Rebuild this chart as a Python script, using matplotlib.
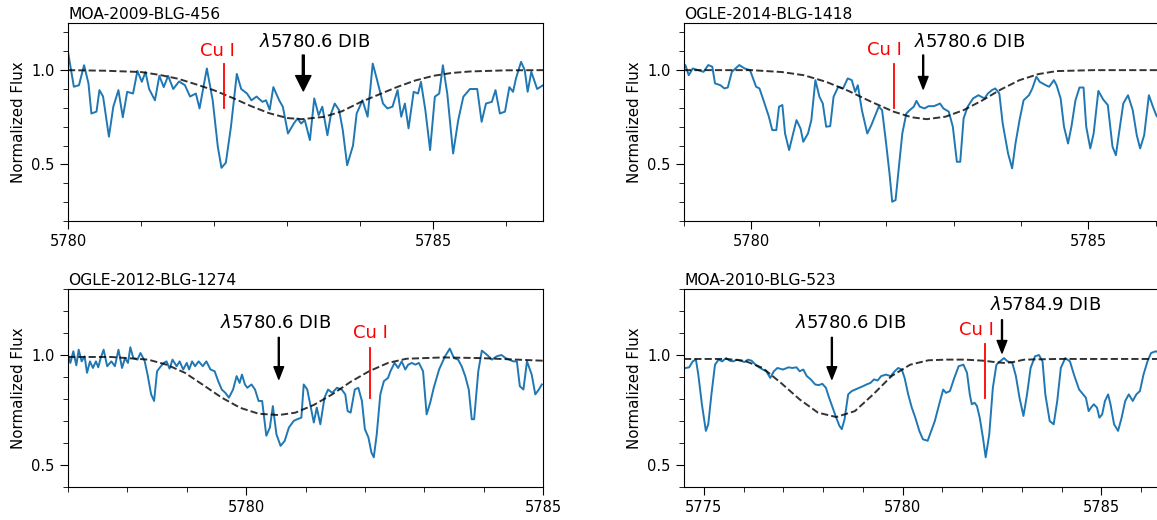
import numpy as np
import matplotlib.pyplot as plt
from matplotlib.ticker import MultipleLocator

# ---- MOA-2009-BLG-456 ----
wave1 = [5780.00, 5780.08, 5780.15, 5780.22, 5780.28, 5780.32, 5780.39, 5780.43, 5780.48, 5780.56,
         5780.62, 5780.69, 5780.75, 5780.81, 5780.89, 5780.95, 5781.01, 5781.06, 5781.11, 5781.19,
         5781.25, 5781.31, 5781.37, 5781.44, 5781.52, 5781.60, 5781.67, 5781.75, 5781.80, 5781.90,
         5781.98, 5782.05, 5782.10, 5782.16, 5782.23, 5782.31, 5782.37, 5782.45, 5782.51, 5782.58,
         5782.66, 5782.71, 5782.76, 5782.81, 5782.89, 5782.94, 5783.01, 5783.09, 5783.14, 5783.19,
         5783.24, 5783.31, 5783.37, 5783.43, 5783.48, 5783.55, 5783.60, 5783.65, 5783.71, 5783.76,
         5783.82, 5783.90, 5783.95, 5784.03, 5784.10, 5784.17, 5784.23, 5784.31, 5784.37, 5784.44,
         5784.51, 5784.56, 5784.61, 5784.66, 5784.73, 5784.79, 5784.83, 5784.89, 5784.955, 5785.02,
         5785.08, 5785.13, 5785.19, 5785.27, 5785.34, 5785.41, 5785.50, 5785.60, 5785.66, 5785.72,
         5785.80, 5785.85, 5785.91, 5785.98, 5786.04, 5786.09, 5786.13, 5786.20, 5786.25, 5786.29,
         5786.34, 5786.42, 5786.50]
flux1 = [1.097, 0.912, 0.920, 1.026, 0.930, 0.770, 0.780, 0.894, 0.860, 0.647,
         0.806, 0.894, 0.750, 0.885, 0.876, 0.996, 0.938, 0.990, 0.900, 0.840,
         0.970, 0.910, 0.970, 0.900, 0.940, 0.920, 0.860, 0.876, 0.797, 1.009,
         0.840, 0.594, 0.482, 0.509, 0.700, 0.980, 0.900, 0.876, 0.840, 0.860,
         0.832, 0.840, 0.790, 0.910, 0.840, 0.806, 0.664, 0.717, 0.744, 0.717,
         0.735, 0.629, 0.850, 0.761, 0.806, 0.655, 0.770, 0.823, 0.788, 0.682,
         0.496, 0.600, 0.770, 0.840, 0.753, 1.035, 0.947, 0.823, 0.797, 0.806,
         0.894, 0.753, 0.823, 0.691, 0.885, 0.876, 0.938, 0.788, 0.576, 0.859,
         0.876, 1.026, 0.876, 0.558, 0.735, 0.859, 0.900, 0.900, 0.726, 0.823,
         0.832, 0.894, 0.770, 0.780, 0.910, 0.885, 0.956, 1.044, 1.000, 0.885,
         0.991, 0.900, 0.920]
mwave1 = [5780.0, 5780.5, 5781.0, 5781.25, 5781.5, 5781.75, 5782.0, 5782.25, 5782.5, 5782.75,
          5783.0, 5783.2, 5783.5, 5783.75, 5784.0, 5784.25, 5784.5, 5784.75, 5785.0, 5785.25,
          5785.5, 5786.0, 5786.5]
model1 = [1.0, 0.997, 0.99, 0.975, 0.955, 0.925, 0.893, 0.853, 0.810, 0.772,
          0.746, 0.740, 0.752, 0.782, 0.830, 0.870, 0.910, 0.945, 0.970, 0.985,
          0.993, 0.999, 1.0]

# ---- OGLE-2014-BLG-1418 ----
wave2 = [5779.00, 5779.02, 5779.07, 5779.13, 5779.21, 5779.29, 5779.36, 5779.42, 5779.46, 5779.54,
         5779.60, 5779.65, 5779.71, 5779.82, 5779.90, 5779.98, 5780.07, 5780.12, 5780.18, 5780.26,
         5780.31, 5780.37, 5780.41, 5780.46, 5780.50, 5780.56, 5780.62, 5780.67, 5780.73, 5780.77,
         5780.84, 5780.89, 5780.95, 5781.01, 5781.06, 5781.11, 5781.17, 5781.22, 5781.29, 5781.36,
         5781.43, 5781.49, 5781.54, 5781.58, 5781.64, 5781.72, 5781.78, 5781.89, 5781.94, 5782.00,
         5782.05, 5782.09, 5782.14, 5782.19, 5782.24, 5782.30, 5782.35, 5782.41, 5782.45, 5782.50,
         5782.57, 5782.63, 5782.71, 5782.80, 5782.85, 5782.93, 5782.99, 5783.05, 5783.10, 5783.15,
         5783.21, 5783.29, 5783.37, 5783.46, 5783.51, 5783.57, 5783.62, 5783.68, 5783.73, 5783.81,
         5783.87, 5783.92, 5783.98, 5784.04, 5784.12, 5784.17, 5784.23, 5784.28, 5784.37, 5784.42,
         5784.49, 5784.53, 5784.59, 5784.64, 5784.70, 5784.75, 5784.81, 5784.87, 5784.93, 5784.97,
         5785.03, 5785.08, 5785.15, 5785.22, 5785.29, 5785.36, 5785.41, 5785.47, 5785.52, 5785.59,
         5785.66, 5785.72, 5785.77, 5785.83, 5785.90, 5785.96, 5786.01, 5786.05]
flux2 = [1.009, 1.027, 0.973, 1.009, 1.000, 0.991, 1.027, 1.018, 0.930, 0.920,
         0.903, 0.908, 0.991, 1.027, 1.009, 1.000, 0.912, 0.903, 0.840, 0.753,
         0.682, 0.682, 0.806, 0.815, 0.664, 0.576, 0.664, 0.735, 0.690, 0.620,
         0.664, 0.735, 0.947, 0.859, 0.823, 0.700, 0.703, 0.859, 0.912, 0.903,
         0.956, 0.947, 0.885, 0.920, 0.788, 0.664, 0.708, 0.806, 0.788, 0.611,
         0.452, 0.302, 0.311, 0.488, 0.664, 0.770, 0.788, 0.806, 0.837, 0.806,
         0.797, 0.809, 0.809, 0.823, 0.797, 0.780, 0.700, 0.514, 0.514, 0.744,
         0.806, 0.850, 0.867, 0.850, 0.876, 0.894, 0.903, 0.876, 0.717, 0.558,
         0.479, 0.611, 0.735, 0.840, 0.867, 0.903, 0.965, 0.938, 0.920, 0.912,
         0.947, 0.920, 0.850, 0.700, 0.611, 0.700, 0.840, 0.908, 0.908, 0.700,
         0.585, 0.664, 0.890, 0.845, 0.815, 0.594, 0.549, 0.700, 0.823, 0.867,
         0.788, 0.655, 0.585, 0.655, 0.867, 0.806, 0.760, 0.740]
mwave2 = [5779.0, 5780.0, 5780.45, 5780.78, 5781.11, 5781.44, 5781.78, 5782.11, 5782.38, 5782.60,
          5782.88, 5783.15, 5783.43, 5783.70, 5783.98, 5784.26, 5784.53, 5785.08, 5786.05]
model2 = [1.0, 1.0, 0.99, 0.973, 0.938, 0.890, 0.832, 0.780, 0.750, 0.740,
          0.753, 0.788, 0.840, 0.897, 0.947, 0.979, 0.995, 1.0, 1.0]

# ---- OGLE-2012-BLG-1274 ----
wave3 = [5777.00, 5777.04, 5777.09, 5777.14, 5777.18, 5777.23, 5777.28, 5777.32, 5777.37, 5777.42,
         5777.47, 5777.51, 5777.55, 5777.60, 5777.66, 5777.73, 5777.79, 5777.85, 5777.91, 5777.96,
         5778.01, 5778.05, 5778.10, 5778.17, 5778.22, 5778.29, 5778.34, 5778.40, 5778.45, 5778.50,
         5778.55, 5778.61, 5778.66, 5778.71, 5778.76, 5778.83, 5778.88, 5778.94, 5779.00, 5779.04,
         5779.09, 5779.14, 5779.20, 5779.27, 5779.33, 5779.40, 5779.47, 5779.53, 5779.59, 5779.65,
         5779.71, 5779.78, 5779.84, 5779.89, 5779.93, 5779.98, 5780.02, 5780.09, 5780.15, 5780.21,
         5780.27, 5780.34, 5780.40, 5780.45, 5780.51, 5780.58, 5780.65, 5780.72, 5780.80, 5780.86,
         5780.93, 5780.97, 5781.03, 5781.09, 5781.14, 5781.19, 5781.25, 5781.32, 5781.38, 5781.45,
         5781.53, 5781.61, 5781.67, 5781.71, 5781.76, 5781.83, 5781.89, 5781.95, 5782.00, 5782.06,
         5782.11, 5782.15, 5782.20, 5782.26, 5782.32, 5782.39, 5782.43, 5782.50, 5782.56, 5782.62,
         5782.68, 5782.73, 5782.79, 5782.85, 5782.91, 5782.98, 5783.04, 5783.10, 5783.16, 5783.25,
         5783.35, 5783.43, 5783.50, 5783.57, 5783.63, 5783.69, 5783.75, 5783.80, 5783.84, 5783.91,
         5783.97, 5784.06, 5784.14, 5784.22, 5784.30, 5784.37, 5784.43, 5784.50, 5784.56, 5784.61,
         5784.67, 5784.73, 5784.81, 5784.87, 5784.93, 5784.98]
flux3 = [1.000, 0.964, 1.017, 0.953, 1.024, 0.971, 0.994, 0.919, 0.971, 0.941,
         0.971, 0.944, 0.986, 1.024, 0.949, 0.971, 0.949, 1.024, 0.941, 0.986,
         0.964, 1.035, 0.986, 0.979, 1.009, 0.974, 0.911, 0.821, 0.791, 0.926,
         0.944, 0.964, 0.971, 0.938, 0.979, 0.949, 0.971, 0.934, 0.964, 0.934,
         0.971, 0.949, 0.971, 0.949, 0.971, 0.934, 0.926, 0.881, 0.843, 0.828,
         0.806, 0.843, 0.904, 0.873, 0.911, 0.866, 0.851, 0.866, 0.843, 0.791,
         0.791, 0.633, 0.670, 0.768, 0.640, 0.587, 0.610, 0.670, 0.700, 0.708,
         0.715, 0.866, 0.843, 0.761, 0.693, 0.761, 0.685, 0.806, 0.843, 0.828,
         0.851, 0.843, 0.821, 0.745, 0.738, 0.843, 0.851, 0.791, 0.663, 0.625,
         0.557, 0.535, 0.640, 0.821, 0.881, 0.896, 0.926, 0.964, 0.941, 0.971,
         0.934, 0.956, 0.964, 0.956, 0.964, 0.926, 0.730, 0.783, 0.851, 0.934,
         0.994, 1.029, 0.986, 0.979, 0.949, 0.904, 0.843, 0.708, 0.708, 0.926,
         1.020, 1.000, 0.979, 0.994, 1.000, 0.986, 0.979, 0.971, 0.971, 0.858,
         0.843, 0.971, 0.911, 0.821, 0.843, 0.866]
mwave3 = [5777.0, 5777.73, 5778.35, 5778.66, 5778.97, 5779.28, 5779.59, 5779.90, 5780.21, 5780.55,
          5780.83, 5781.14, 5781.45, 5781.76, 5782.07, 5782.39, 5782.70, 5783.32, 5783.94, 5784.56,
          5785.0]
model3 = [0.991, 0.991, 0.979, 0.956, 0.919, 0.863, 0.806, 0.760, 0.733, 0.727,
          0.738, 0.773, 0.821, 0.878, 0.926, 0.964, 0.983, 0.989, 0.986, 0.979,
          0.974]

# ---- MOA-2010-BLG-523 ----
wave4 = [5774.54, 5774.63, 5774.72, 5774.80, 5774.86, 5774.95, 5775.05, 5775.11, 5775.19, 5775.28,
         5775.37, 5775.46, 5775.56, 5775.65, 5775.74, 5775.83, 5775.93, 5776.02, 5776.11, 5776.20,
         5776.30, 5776.39, 5776.48, 5776.57, 5776.67, 5776.76, 5776.85, 5776.99, 5777.13, 5777.22,
         5777.33, 5777.41, 5777.50, 5777.59, 5777.69, 5777.80, 5777.89, 5777.98, 5778.07, 5778.15,
         5778.24, 5778.33, 5778.41, 5778.47, 5778.54, 5778.63, 5778.72, 5778.81, 5778.91, 5779.00,
         5779.09, 5779.19, 5779.28, 5779.37, 5779.46, 5779.58, 5779.70, 5779.80, 5779.89, 5779.98,
         5780.05, 5780.14, 5780.23, 5780.32, 5780.42, 5780.51, 5780.63, 5780.72, 5780.81, 5780.93,
         5781.02, 5781.09, 5781.19, 5781.30, 5781.41, 5781.53, 5781.62, 5781.69, 5781.74, 5781.81,
         5781.87, 5781.94, 5782.02, 5782.09, 5782.18, 5782.27, 5782.36, 5782.45, 5782.55, 5782.64,
         5782.76, 5782.85, 5782.94, 5783.04, 5783.13, 5783.22, 5783.33, 5783.43, 5783.52, 5783.59,
         5783.70, 5783.80, 5783.89, 5783.98, 5784.09, 5784.21, 5784.31, 5784.44, 5784.54, 5784.61,
         5784.68, 5784.74, 5784.81, 5784.89, 5784.95, 5785.02, 5785.09, 5785.17, 5785.23, 5785.32,
         5785.42, 5785.51, 5785.60, 5785.69, 5785.79, 5785.88, 5785.97, 5786.06, 5786.16, 5786.25,
         5786.37, 5786.45]
flux4 = [0.941, 0.944, 0.971, 0.979, 0.911, 0.776, 0.655, 0.685, 0.821, 0.956,
         0.979, 0.971, 0.986, 0.974, 0.971, 0.979, 0.974, 0.968, 0.979, 0.974,
         0.956, 0.944, 0.934, 0.926, 0.896, 0.926, 0.941, 0.934, 0.944, 0.941,
         0.944, 0.926, 0.934, 0.904, 0.889, 0.866, 0.863, 0.869, 0.851, 0.806,
         0.761, 0.715, 0.678, 0.663, 0.708, 0.821, 0.836, 0.843, 0.851, 0.858,
         0.866, 0.873, 0.889, 0.884, 0.904, 0.911, 0.904, 0.926, 0.941, 0.934,
         0.896, 0.821, 0.761, 0.715, 0.655, 0.617, 0.610, 0.655, 0.700, 0.783,
         0.843, 0.828, 0.836, 0.896, 0.949, 0.956, 0.919, 0.821, 0.776, 0.783,
         0.768, 0.715, 0.625, 0.535, 0.640, 0.851, 0.956, 0.971, 0.986, 0.971,
         0.964, 0.904, 0.806, 0.723, 0.821, 0.941, 0.994, 1.000, 0.971, 0.821,
         0.700, 0.685, 0.791, 0.941, 0.986, 0.971, 0.911, 0.843, 0.821, 0.806,
         0.745, 0.761, 0.776, 0.761, 0.715, 0.730, 0.791, 0.821, 0.776, 0.685,
         0.655, 0.715, 0.791, 0.821, 0.791, 0.821, 0.836, 0.911, 0.971, 1.009,
         1.017, 1.010]
mwave4 = [5774.5, 5775.56, 5776.02, 5776.48, 5776.94, 5777.41, 5777.87, 5778.33, 5778.80, 5779.26,
          5779.72, 5780.19, 5780.65, 5781.11, 5781.57, 5782.04, 5782.31, 5782.55, 5782.78, 5783.06,
          5783.89, 5786.45]
model4 = [0.982, 0.982, 0.974, 0.941, 0.873, 0.798, 0.738, 0.718, 0.745, 0.821,
          0.904, 0.956, 0.976, 0.979, 0.979, 0.974, 0.968, 0.964, 0.968, 0.979,
          0.982, 0.982]

names = ["MOA-2009-BLG-456", "OGLE-2014-BLG-1418", "OGLE-2012-BLG-1274", "MOA-2010-BLG-523"]
dib_label = r"$\lambda$5780.6 DIB"
dib2_label = r"$\lambda$5784.9 DIB"

fig = plt.figure(figsize=(11.57, 5.2), dpi=100)
w = 475 / 1157
h = 198 / 520
pos = [(68 / 1157, 299 / 520), (684 / 1157, 299 / 520),
       (68 / 1157, 33 / 520), (684 / 1157, 33 / 520)]
xlims = [(5780, 5786.5), (5779, 5786.05), (5777, 5785), (5774.5, 5786.45)]
ylims = [(0.2, 1.25), (0.2, 1.25), (0.4, 1.3), (0.4, 1.3)]
spectra = [(wave1, flux1, mwave1, model1), (wave2, flux2, mwave2, model2),
           (wave3, flux3, mwave3, model3), (wave4, flux4, mwave4, model4)]

axes = []
for i in range(4):
    ax = fig.add_axes([pos[i][0], pos[i][1], w, h])
    wv, fl, mw, md = spectra[i]
    ax.plot(wv, fl, color="#1f77b4", lw=1.4)
    ax.plot(mw, md, color="black", ls="--", lw=1.4, alpha=0.8)
    ax.set_xlim(xlims[i])
    ax.set_ylim(ylims[i])
    ax.xaxis.set_major_locator(MultipleLocator(5))
    ax.xaxis.set_minor_locator(MultipleLocator(1))
    ax.yaxis.set_major_locator(MultipleLocator(0.5))
    ax.yaxis.set_minor_locator(MultipleLocator(0.1))
    ax.tick_params(which="major", length=6, labelsize=10.5)
    ax.tick_params(which="minor", length=3.5)
    ax.set_ylabel("Normalized Flux", fontsize=10.8)
    ax.set_title(names[i], loc="left", fontsize=11.2, pad=3)
    axes.append(ax)

def dib(ax, x, tip, tail, tx, ty, label, big=False):
    if big:
        props = dict(facecolor="black", edgecolor="black", width=1.4, headwidth=11, headlength=11, shrink=0)
    else:
        props = dict(facecolor="black", edgecolor="black", width=0.7, headwidth=7, headlength=9, shrink=0)
    ax.annotate("", xy=(x, tip), xytext=(x, tail), arrowprops=props)
    ax.text(tx, ty, label, ha="center", va="center", fontsize=13)

def cu(ax, x, y0, y1, tx, ty):
    ax.plot([x, x], [y0, y1], color="red", lw=1.3)
    ax.text(tx, ty, "Cu I", color="red", ha="center", va="center", fontsize=13)

a1, a2, a3, a4 = axes
cu(a1, 5782.13, 0.80, 1.03, 5782.05, 1.10)
dib(a1, 5783.22, 0.89, 1.08, 5783.37, 1.15, dib_label, big=True)

cu(a2, 5782.12, 0.80, 1.03, 5781.98, 1.105)
dib(a2, 5782.55, 0.90, 1.08, 5783.24, 1.15, dib_label)

cu(a3, 5782.09, 0.806, 1.03, 5782.09, 1.10)
dib(a3, 5780.55, 0.89, 1.08, 5780.49, 1.145, dib_label)

cu(a4, 5782.08, 0.806, 1.05, 5781.85, 1.114)
dib(a4, 5778.22, 0.89, 1.08, 5778.70, 1.145, dib_label)
dib(a4, 5782.50, 1.009, 1.16, 5783.59, 1.227, dib2_label)

fig.savefig("out.png", dpi=100)
